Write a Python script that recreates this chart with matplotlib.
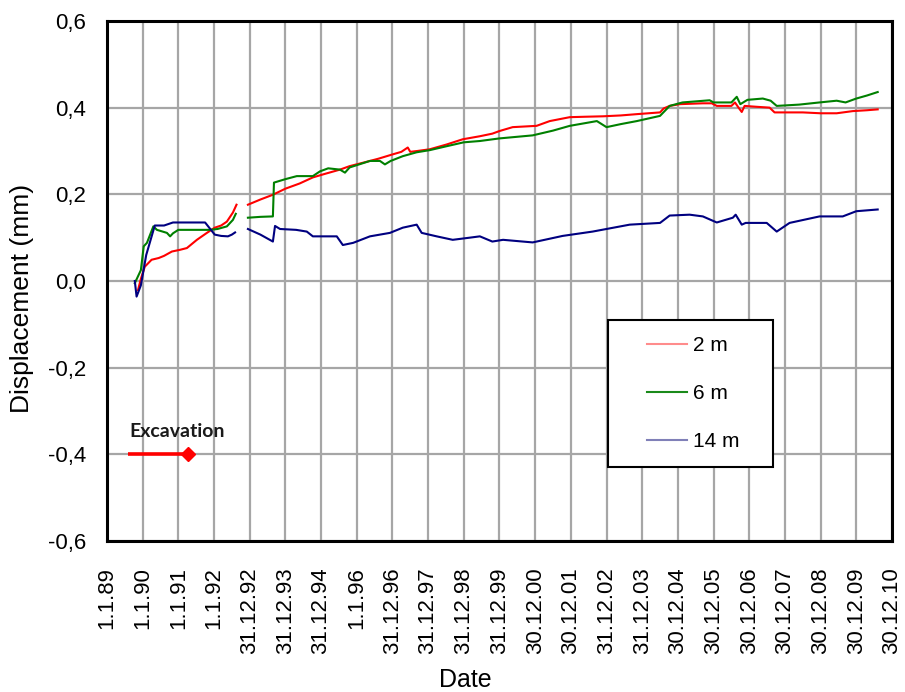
import numpy as np
import matplotlib
matplotlib.use("Agg")
import matplotlib.pyplot as plt
from matplotlib.lines import Line2D
from matplotlib.patches import Rectangle

plt.rcParams['font.family'] = ['Liberation Sans', 'DejaVu Sans']

# ---- data (x in "tick index" units: 0 = 1.1.89, 22 = 30.12.10) ----
tick_labels = ["1.1.89", "1.1.90", "1.1.91", "1.1.92", "31.12.92", "31.12.93",
               "31.12.94", "1.1.96", "31.12.96", "31.12.97", "31.12.98", "31.12.99",
               "30.12.00", "30.12.01", "31.12.02", "31.12.03", "30.12.04", "30.12.05",
               "30.12.06", "30.12.07", "30.12.08", "30.12.09", "30.12.10"]

red_x = [0.87, 0.95, 1.06, 1.25, 1.45, 1.6, 1.82, 2.05, 2.24, 2.52, 2.8, 3.02, 3.2, 3.36, 3.53, 3.63,
         np.nan,
         3.95, 4.3, 4.65, 5.0, 5.4, 5.77, 6.1, 6.53, 6.8, 7.18, 7.6, 8.0, 8.25, 8.43, 8.5, 8.7, 9.05,
         9.52, 9.97, 10.45, 10.8, 11.0, 11.37, 12.04, 12.41, 12.97, 13.4, 13.9, 14.4, 14.85, 15.5,
         15.6, 15.77, 16.05, 16.7, 16.95, 17.09, 17.5, 17.6, 17.7, 17.79, 17.87, 18.2, 18.57, 18.71,
         19.1, 19.5, 20.0, 20.45, 20.9, 21.3, 21.6]
red_y = [-0.021, 0.005, 0.033, 0.049, 0.053, 0.058, 0.068, 0.072, 0.076, 0.095, 0.111, 0.123, 0.128,
         0.137, 0.158, 0.176,
         np.nan,
         0.176, 0.188, 0.199, 0.213, 0.225, 0.239, 0.247, 0.257, 0.265, 0.273, 0.282, 0.292, 0.298,
         0.308, 0.298, 0.300, 0.304, 0.315, 0.327, 0.334, 0.340, 0.346, 0.355, 0.358, 0.369, 0.378,
         0.379, 0.380, 0.382, 0.385, 0.389, 0.398, 0.404, 0.408, 0.410, 0.410, 0.404, 0.404, 0.412,
         0.400, 0.390, 0.404, 0.402, 0.400, 0.389, 0.389, 0.389, 0.387, 0.387, 0.392, 0.394, 0.396]

green_x = [0.78, 0.95, 1.03, 1.12, 1.3, 1.4, 1.68, 1.77, 1.85, 2.0, 2.45, 2.89, 3.1, 3.36, 3.53, 3.61,
           np.nan,
           3.95, 4.3, 4.65, 4.68, 5.0, 5.32, 5.77, 5.97, 6.2, 6.53, 6.67, 6.8, 7.37, 7.65, 7.79, 7.95,
           8.29, 8.68, 9.05, 9.52, 10.0, 10.45, 11.0, 11.93, 12.5, 12.97, 13.73, 14.0, 14.4, 14.85,
           15.5, 15.77, 16.13, 16.89, 17.0, 17.5, 17.65, 17.75, 17.95, 18.38, 18.6, 18.77, 19.4,
           19.97, 20.45, 20.7, 21.0, 21.3, 21.6]
green_y = [-0.005, 0.025, 0.080, 0.088, 0.126, 0.118, 0.111, 0.103, 0.110, 0.118, 0.118, 0.118, 0.120,
           0.126, 0.141, 0.155,
           np.nan,
           0.146, 0.148, 0.149, 0.227, 0.235, 0.242, 0.242, 0.253, 0.260, 0.257, 0.250, 0.262, 0.277,
           0.277, 0.269, 0.277, 0.288, 0.297, 0.302, 0.311, 0.320, 0.323, 0.329, 0.336, 0.347, 0.358,
           0.369, 0.355, 0.362, 0.369, 0.381, 0.404, 0.412, 0.417, 0.412, 0.412, 0.425, 0.408, 0.418,
           0.421, 0.416, 0.404, 0.407, 0.412, 0.416, 0.412, 0.421, 0.428, 0.436]

blue_x = [0.78, 0.83, 0.95, 1.1, 1.34, 1.6, 1.85, 2.3, 2.75, 3.02, 3.2, 3.39, 3.5, 3.59,
          np.nan,
          3.95, 4.3, 4.65, 4.71, 4.85, 5.3, 5.6, 5.77, 6.44, 6.61, 6.9, 7.37, 7.93, 8.29, 8.68, 8.82,
          9.24, 9.69, 10.17, 10.45, 10.8, 11.1, 11.93, 12.77, 13.61, 14.65, 15.5, 15.77, 16.33, 16.7,
          17.09, 17.54, 17.62, 17.79, 17.9, 18.49, 18.77, 19.13, 19.97, 20.62, 21.0, 21.6]
blue_y = [0.000, -0.036, -0.010, 0.060, 0.128, 0.128, 0.135, 0.135, 0.135, 0.107, 0.104, 0.103, 0.107,
          0.112,
          np.nan,
          0.120, 0.107, 0.091, 0.127, 0.120, 0.118, 0.114, 0.103, 0.103, 0.083, 0.088, 0.103, 0.111,
          0.123, 0.130, 0.111, 0.103, 0.095, 0.100, 0.103, 0.091, 0.095, 0.089, 0.104, 0.114, 0.130,
          0.134, 0.151, 0.153, 0.149, 0.135, 0.146, 0.153, 0.130, 0.134, 0.134, 0.114, 0.134, 0.149,
          0.149, 0.161, 0.165]

excavation_x = [0.6, 2.27]
excavation_y = [-0.4, -0.4]

series_labels = ["2 m", "6 m", "14 m"]

# ---- figure ----
fig = plt.figure(figsize=(9.05, 6.92), dpi=100)
ax = fig.add_axes([0.1182, 0.2182, 0.8674, 0.7515])

grid_c = "#a6a6a6"
ax.set_xlim(0, 22)
ax.set_ylim(-0.6, 0.6)
ax.set_xticks(np.arange(len(tick_labels)))
ax.set_xticklabels(tick_labels, rotation=90, fontsize=16)
yt = np.round(np.arange(-0.6, 0.61, 0.2), 1)
ax.set_yticks(yt)
ax.set_yticklabels([f"{v:.1f}".replace(".", ",") for v in yt], fontsize=16)
ax.tick_params(axis="both", length=0)
ax.tick_params(axis="x", pad=19)
ax.tick_params(axis="y", pad=15)
ax.grid(True, color=grid_c, lw=1.6)
ax.set_axisbelow(True)
for s in ax.spines.values():
    s.set_linewidth(2.2)
    s.set_color("black")

ax.plot(red_x, red_y, color="#ff0000", lw=1.5)
ax.plot(green_x, green_y, color="#008000", lw=1.5)
ax.plot(blue_x, blue_y, color="#000080", lw=1.5)

# Excavation marker
ax.plot(excavation_x, excavation_y, color="#ff0000", lw=2.6, solid_capstyle="butt")
ax.plot([excavation_x[1]], [excavation_y[1]], marker="D", color="#ff0000", ms=7, ls="none")
ax.text(0.62, -0.359, "Excavation", family=["Lato", "DejaVu Sans"], fontweight="bold",
        fontsize=14, ha="left", va="baseline", color="#1a1a1a")

ax.set_xlabel("Date", fontsize=18, va="center")
ax.xaxis.set_label_coords(0.457, -0.268)
ax.set_ylabel("Displacement (mm)", fontsize=19, va="center")
ax.yaxis.set_label_coords(-0.108, 0.467)

# legend frame + legend
ax.add_patch(Rectangle((0.638, 0.142), 0.211, 0.283, transform=ax.transAxes,
                       facecolor="white", edgecolor="black", lw=1.5, zorder=5))
handles = [Line2D([], [], color="#ff8c8c", lw=1.5),
           Line2D([], [], color="#1a8a1a", lw=1.5),
           Line2D([], [], color="#8080b8", lw=1.5)]
leg = ax.legend(handles, series_labels, loc="center left",
                bbox_to_anchor=(0.675, 0.2835), frameon=False, fontsize=15,
                handlelength=1.9, handletextpad=0.3, labelspacing=1.4, borderpad=0)
leg.set_zorder(6)

fig.savefig("out.png", dpi=100)
